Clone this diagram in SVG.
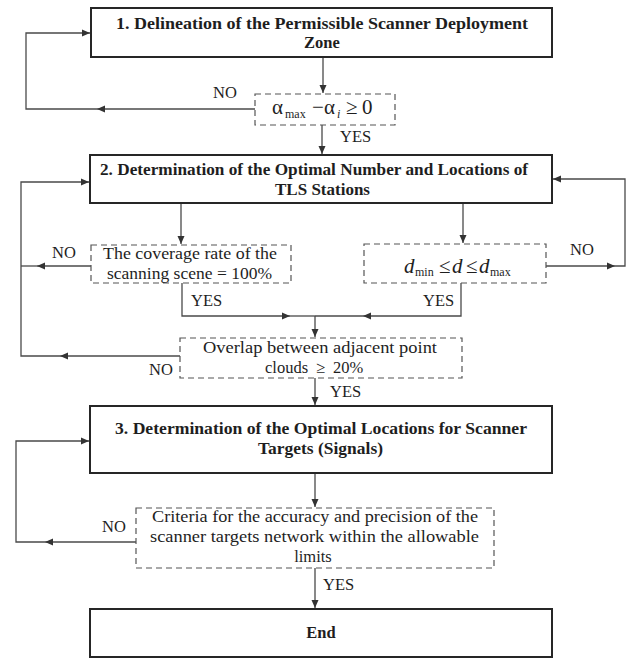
<svg xmlns="http://www.w3.org/2000/svg" width="635" height="659" viewBox="0 0 635 659">
<style>
.box{fill:#fff;stroke:#262626;stroke-width:2}
.dbox{fill:#fff;stroke:#555;stroke-width:1.2;stroke-dasharray:6 4}
.ln{fill:none;stroke:#4a4a4a;stroke-width:1.3}
.arr{marker-end:url(#ah)}
text{font-family:"Liberation Serif","Times New Roman",serif;font-size:16.5px;fill:#1e1e1e}
.b{font-weight:bold}
.m{font-size:21px}
.s{font-size:12px}
.it{font-style:italic}
.c{text-anchor:middle}
</style>
<defs>
<marker id="ah" markerUnits="userSpaceOnUse" markerWidth="9" markerHeight="8" refX="8" refY="4" orient="auto"><path d="M0,0.5 L8,4 L0,7.5 Z" fill="#333"/></marker>
</defs>
<rect width="635" height="659" fill="#fff"/>
<g id="connectors">
<path class="ln arr" d="M323,57 V93"/>
<path class="ln arr" d="M255,109 H97"/><path class="ln arr" d="M97,109 H26 V33 H90"/>
<path class="ln arr" d="M322,125 V154"/>
<path class="ln arr" d="M181,203 V244"/>
<path class="ln arr" d="M463,203 V243"/>
<path class="ln arr" d="M91,266 H37"/><path class="ln" d="M37,266 H21"/>
<path class="ln arr" d="M180,356 H60"/><path class="ln arr" d="M60,356 H21 V182 H89"/>
<path class="ln arr" d="M546,266 H615"/><path class="ln arr" d="M615,266 H625 V179 H553"/>
<path class="ln arr" d="M182,283 V316 H290"/><path class="ln" d="M290,316 H315"/>
<path class="ln arr" d="M461,283 V316 H363"/><path class="ln" d="M363,316 H315"/>
<path class="ln arr" d="M315,316 V337"/>
<path class="ln arr" d="M315,378 V405"/>
<path class="ln arr" d="M315,473 V507"/>
<path class="ln arr" d="M136,542 H45"/><path class="ln arr" d="M45,542 H16 V441 H89"/>
<path class="ln arr" d="M315,568 V608"/>
<text x="213" y="98">NO</text>
<text x="340" y="142">YES</text>
<text x="52" y="258">NO</text>
<text x="570" y="255">NO</text>
<text x="191" y="306">YES</text>
<text x="423" y="306">YES</text>
<text x="149" y="375">NO</text>
<text x="330" y="397">YES</text>
<text x="102" y="532">NO</text>
<text x="323" y="590">YES</text>
</g>
<g id="step1">
<rect class="box" x="91" y="8" width="461" height="49"/>
<text class="b" x="116" y="29" textLength="412" lengthAdjust="spacingAndGlyphs">1. Delineation of the Permissible Scanner Deployment</text>
<text class="b c" x="322" y="48">Zone</text>
</g>
<g id="check-alpha">
<rect class="dbox" x="255" y="94" width="140" height="31"/>
<text y="114"><tspan class="m" x="272">α</tspan><tspan class="s" x="285" dy="4">max</tspan><tspan class="m" x="312" dy="-4">−</tspan><tspan class="m" x="324">α</tspan><tspan class="s it" x="337" dy="4">i</tspan><tspan class="m" x="346" dy="-4">≥</tspan><tspan class="m" x="362">0</tspan></text>
</g>
<g id="step2">
<rect class="box" x="90" y="155" width="462" height="48"/>
<text class="b" x="100" y="175" textLength="428" lengthAdjust="spacingAndGlyphs">2. Determination of the Optimal Number and Locations of</text>
<text class="b" x="275" y="195" textLength="95" lengthAdjust="spacingAndGlyphs">TLS Stations</text>
</g>
<g id="check-coverage">
<rect class="dbox" x="91" y="245" width="200" height="38"/>
<text x="103" y="259" textLength="174" lengthAdjust="spacingAndGlyphs">The coverage rate of the</text>
<text x="107" y="279" textLength="165" lengthAdjust="spacingAndGlyphs">scanning scene = 100%</text>
</g>
<g id="check-distance">
<rect class="dbox" x="364" y="244" width="182" height="39"/>
<text y="273"><tspan class="m it" x="404">d</tspan><tspan class="s" x="415" dy="3">min</tspan><tspan class="m" x="439" dy="-3">≤</tspan><tspan class="m it" x="452">d</tspan><tspan class="m" x="466">≤</tspan><tspan class="m it" x="479">d</tspan><tspan class="s" x="490" dy="3">max</tspan></text>
</g>
<g id="check-overlap">
<rect class="dbox" x="180" y="338" width="282" height="40"/>
<text x="203" y="353" textLength="234" lengthAdjust="spacingAndGlyphs">Overlap between adjacent point</text>
<text y="373"><tspan x="265">clouds</tspan><tspan x="316">≥</tspan><tspan x="333">20%</tspan></text>
</g>
<g id="step3">
<rect class="box" x="90" y="406" width="462" height="67"/>
<text class="b" x="115" y="434" textLength="412" lengthAdjust="spacingAndGlyphs">3. Determination of the Optimal Locations for Scanner</text>
<text class="b" x="258" y="454" textLength="125" lengthAdjust="spacingAndGlyphs">Targets (Signals)</text>
</g>
<g id="check-criteria">
<rect class="dbox" x="136" y="508" width="358" height="60"/>
<text x="152" y="522" textLength="326" lengthAdjust="spacingAndGlyphs">Criteria for the accuracy and precision of the</text>
<text x="150" y="542" textLength="329" lengthAdjust="spacingAndGlyphs">scanner targets network within the allowable</text>
<text class="c" x="313" y="562">limits</text>
</g>
<g id="end">
<rect class="box" x="90" y="609" width="462" height="48"/>
<text class="b c" x="321" y="638">End</text>
</g>
</svg>
